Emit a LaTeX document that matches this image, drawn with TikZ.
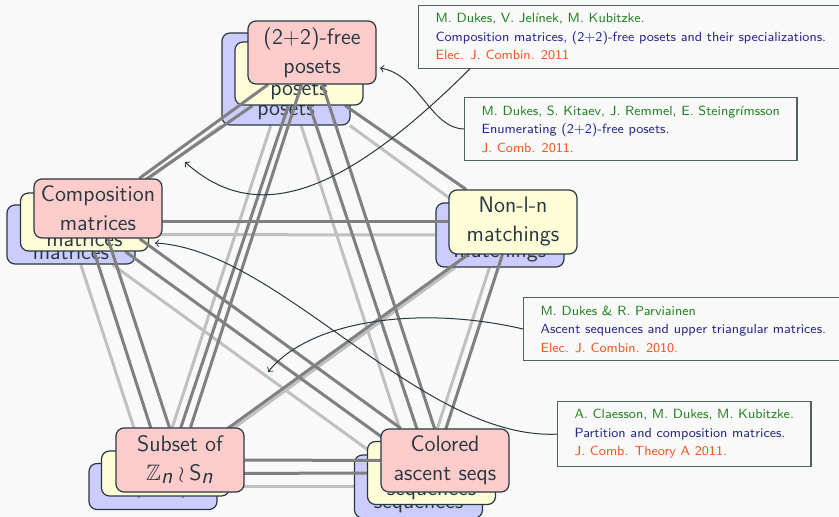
\documentclass[tikz,border=0pt]{standalone}
\usepackage{amssymb}
\usetikzlibrary{calc}

\definecolor{bgc}{RGB}{249,249,249}
\definecolor{boxblue}{RGB}{204,204,255}
\definecolor{boxyellow}{RGB}{255,252,216}
\definecolor{boxpink}{RGB}{255,204,204}
\definecolor{inkc}{RGB}{40,56,64}
\definecolor{edgedark}{RGB}{128,128,128}
\definecolor{edgelight}{RGB}{192,192,192}
\definecolor{refgreen}{RGB}{34,130,34}
\definecolor{refblue}{RGB}{40,40,140}
\definecolor{reforange}{RGB}{250,85,30}
\definecolor{refframe}{RGB}{80,96,100}

\pgfdeclarelayer{bg}
\pgfdeclarelayer{edgesB}
\pgfdeclarelayer{nodesB}
\pgfdeclarelayer{edgesY}
\pgfdeclarelayer{nodesY}
\pgfdeclarelayer{edgesP}
\pgfsetlayers{bg,edgesB,nodesB,edgesY,nodesY,edgesP,main}

\tikzset{
  concept/.style={draw=inkc, line width=0.6pt, rounded corners=4pt, text=inkc,
    align=center, font=\sffamily\fontsize{11.2}{14.5}\selectfont,
    minimum width=64pt, minimum height=31.5pt, inner sep=0pt},
  bluebox/.style={concept, fill=boxblue},
  yellowbox/.style={concept, fill=boxyellow},
  pinkbox/.style={concept, fill=boxpink},
  link light/.style={draw=edgelight, line width=1.5pt},
  link dark/.style={draw=edgedark, line width=1.5pt},
  ref/.style={draw=refframe, line width=0.6pt, fill=bgc, align=left,
    anchor=north west, inner xsep=8.5pt, inner ysep=4pt,
    font=\sffamily\fontsize{6.65}{9.25}\selectfont},
  pointer/.style={draw=inkc, line width=0.5pt, ->}
}

\begin{document}
\begin{tikzpicture}[x=0.5pt,y=-0.5pt]
\begin{pgfonlayer}{bg}
  \fill[bgc] (0,0) rectangle (839,517);
\end{pgfonlayer}
\useasboundingbox (0,0) rectangle (839,517);

% bottom layer of boxes
\begin{pgfonlayer}{nodesB}
  \node[bluebox, minimum height=46pt] (posets-b) at (286,79) {\strut\\\strut\\posets};
  \node[bluebox, minimum height=29.5pt] (comp-b) at (71,234.5) {\strut\\matrices};
  \node[bluebox, minimum height=32pt] (nln-b) at (500,235) {\strut\\matchings};
  \node[bluebox, minimum height=23pt] (sub-b) at (153,486.5) {\hspace*{8pt}(\hspace{5.25pt},\hspace{11.25pt})};
  \node[bluebox] (col-b) at (418.5,486.5) {\strut\\sequences};
\end{pgfonlayer}

% middle layer of boxes
\begin{pgfonlayer}{nodesY}
  \node[yellowbox] (posets-y) at (299,73.5) {\strut\\posets};
  \node[yellowbox, minimum height=29pt] (comp-y) at (84.5,222) {\strut\\matrices};
  \node[yellowbox, minimum height=32pt] (nln-y) at (513,222) {Non-l-n\\matchings};
  \node[yellowbox, minimum height=22.5pt] (sub-y) at (165.5,473.5) {};
  \node[yellowbox] (col-y) at (431.5,473) {\strut\\sequences};
\end{pgfonlayer}

% top layer of boxes
\node[pinkbox] (posets-p) at (312,52.5) {(2+2)-free\\posets};
\node[pinkbox, minimum height=29.5pt] (comp-p) at (98,208.5) {Composition\\matrices};
\node[pinkbox, minimum height=32pt] (sub-p) at (180,460) {Subset of\\$\mathbb{Z}_{\textsf{\textit{n}}}\wr\textsf{S}_{\textsf{\textit{n}}}$};
\node[pinkbox] (col-p) at (445,460.5) {Colored\\ascent seqs};

% links inside each layer
\begin{pgfonlayer}{edgesB}
  \foreach \a/\b in {posets/comp,posets/nln,posets/sub,posets/col,comp/nln,comp/sub,comp/col,nln/sub,nln/col,sub/col}
    \draw[link light] (\a-b) -- (\b-b);
\end{pgfonlayer}
\begin{pgfonlayer}{edgesY}
  \foreach \a/\b in {posets/comp,posets/nln,posets/sub,posets/col,comp/nln,comp/sub,comp/col,nln/sub,nln/col,sub/col}
    \draw[link dark] (\a-y) -- (\b-y);
\end{pgfonlayer}
\begin{pgfonlayer}{edgesP}
  \foreach \a/\b in {posets/comp,posets/sub,posets/col,comp/sub,comp/col,sub/col}
    \draw[link dark] (\a-p) -- (\b-p);
\end{pgfonlayer}

% references
\node[ref] (ref1) at (418,5) {\textcolor{refgreen}{M. Dukes, V. Jelínek, M. Kubitzke.}\\
  \textcolor{refblue}{Composition matrices, (2+2)-free posets and their specializations.}\\
  \textcolor{reforange}{Elec. J. Combin. 2011}};
\node[ref] (ref2) at (464,97) {\textcolor{refgreen}{M. Dukes, S. Kitaev, J. Remmel, E. Steingrímsson}\\
  \textcolor{refblue}{Enumerating (2+2)-free posets.}\\
  \textcolor{reforange}{J. Comb. 2011.}};
\node[ref] (ref3) at (523,297) {\textcolor{refgreen}{M. Dukes \& R. Parviainen}\\
  \textcolor{refblue}{Ascent sequences and upper triangular matrices.}\\
  \textcolor{reforange}{Elec. J. Combin. 2010.}};
\node[ref] (ref4) at (557,401) {\textcolor{refgreen}{A. Claesson, M. Dukes, M. Kubitzke.}\\
  \textcolor{refblue}{Partition and composition matrices.}\\
  \textcolor{reforange}{J. Comb. Theory A 2011.}};

% pointers from the references
\coordinate (tip1) at (185,162);
\coordinate (tip2) at (380,68);
\coordinate (tip3) at (268,372);
\coordinate (tip4) at (155,243);
\draw[pointer] ($(ref1.south west)+(52,0)$) .. controls (350,188) and (260,230) .. (tip1);
\draw[pointer] (ref2.west) .. controls (430,128) and (420,75) .. (tip2);
\draw[pointer] (ref3.west) .. controls (420,305) and (310,320) .. (tip3);
\draw[pointer] (ref4.west) .. controls (420,440) and (280,250) .. (tip4);
\end{tikzpicture}
\end{document}
